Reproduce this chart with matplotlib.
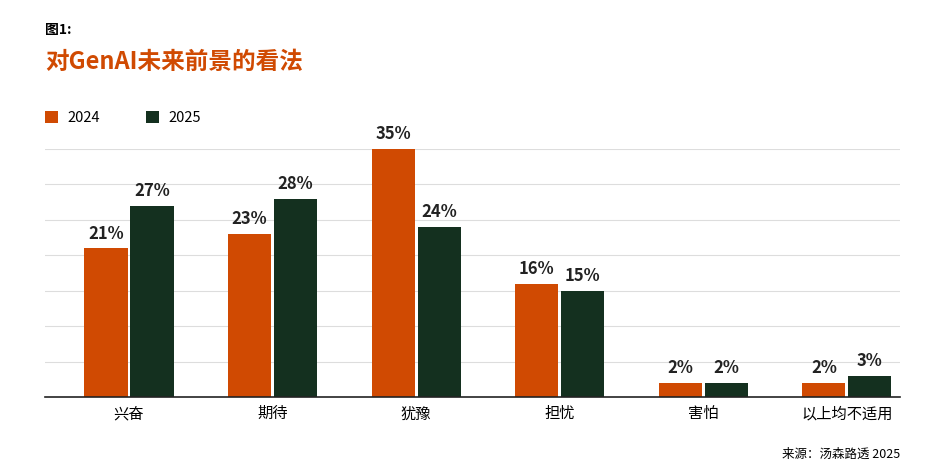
import numpy as np
import matplotlib
matplotlib.use("Agg")
import matplotlib.pyplot as plt

plt.rcParams['font.family'] = ['Noto Sans CJK SC', 'DejaVu Sans']

categories = ['兴奋', '期待', '犹豫', '担忧', '害怕', '以上均不适用']
vals_2024 = [21, 23, 35, 16, 2, 2]
vals_2025 = [27, 28, 24, 15, 2, 3]
orange = '#D04A02'
green = '#14301F'

fig = plt.figure(figsize=(9.46, 4.74), dpi=100)
ax = fig.add_axes([45/946, 77/474, 855/946, 248/474])

x = np.arange(len(categories))
w = 0.30
b1 = ax.bar(x - w/2 - 0.01, vals_2024, w, color=orange, label='2024')
b2 = ax.bar(x + w/2 + 0.01, vals_2025, w, color=green, label='2025')
for bars, vals in ((b1, vals_2024), (b2, vals_2025)):
    for r, v in zip(bars, vals):
        ax.text(r.get_x() + r.get_width()/2, v + 0.8, f'{v}%', ha='center', va='bottom',
                fontsize=12, fontweight='bold', color='#222222')

ax.set_xlim(-0.585, 5.37)
ax.set_ylim(0, 35)
ax.set_yticks(np.arange(5, 36, 5))
ax.yaxis.grid(True, color='#dddddd', linewidth=0.8)
ax.set_axisbelow(True)
ax.tick_params(axis='y', left=False, labelleft=False)
ax.tick_params(axis='x', length=0, pad=6, labelsize=11)
ax.set_xticks(x)
ax.set_xticklabels(categories)
for s in ['top', 'right', 'left']:
    ax.spines[s].set_visible(False)
ax.spines['bottom'].set_color('#222222')
ax.spines['bottom'].set_linewidth(1.2)

fig.text(45/946, 1 - 30/474, '图1:', fontsize=10, fontweight='bold', va='center')
fig.text(45/946, 1 - 62/474, '对GenAI未来前景的看法', fontsize=17, fontweight='bold',
         color=orange, va='center')
fig.legend(loc='upper left', bbox_to_anchor=(32/946, 1 - 98/474), ncol=2, frameon=False,
           handlelength=0.9, handleheight=0.9, handletextpad=0.6, columnspacing=3.2,
           fontsize=10.5)
fig.text(900/946, 1 - 454/474, '来源：汤森路透 2025', fontsize=9, ha='right', va='center')

fig.savefig('out.png', dpi=100)
